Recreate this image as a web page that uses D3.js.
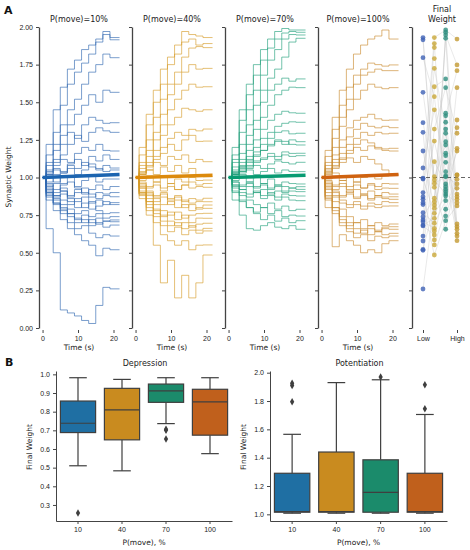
<!DOCTYPE html>
<html>
<head>
<meta charset="utf-8">
<style>
	body { margin: 0; background: #fff; }
	svg { font-family: "DejaVu Sans", sans-serif; }
	.axis path, .axis line { stroke: #444; }
	.axis text { font-size: 7px; fill: #222; }
	.trace { fill: none; stroke-width: 0.85; opacity: 0.75; }
	.label { font-size: 7.5px; fill: #222; }
	.title { font-size: 8px; fill: #222; }
	.panel-letter { font-size: 11px; font-weight: bold; fill: #111; }
</style>
<script src="https://d3js.org/d3.v7.min.js"></script>
<script>
	// ---- data ----
	var moveProb = ["10", "40", "70", "100"];
	var traceColors = ["#2e66b0", "#d69c28", "#22a07c", "#c98a2e"];
	var bandColors  = ["#1c64b0", "#dc8a0c", "#089b72", "#cf6210"];
	var dotColors   = ["#3f62b5", "#c9a838", "#2f8f7f", "#c39a32"];
	var boxColors   = ["#1f6fa3", "#c98b1f", "#1b8b6b", "#c0601c"];

	// weights held after each stimulation event (start weight is 1.0)
	var eventTimes = [1, 3, 5, 7, 9, 11, 13, 15, 17, 19];
	var endTime = 21.7;

	var traces10 = [
		[1.22,1.45,1.60,1.72,1.78,1.85,1.88,1.92,1.97,1.93],
		[1.15,1.30,1.48,1.62,1.70,1.76,1.82,1.90,1.95,1.915],
		[1.10,1.22,1.35,1.45,1.52,1.62,1.70,1.75,1.82,1.796],
		[1.08,1.18,1.28,1.35,1.42,1.48,1.55,1.50,1.58,1.566],
		[1.05,1.12,1.22,1.30,1.26,1.35,1.40,1.38,1.36,1.364],
		[1.04,1.10,1.15,1.22,1.28,1.24,1.30,1.33,1.31,1.30],
		[1.03,1.08,1.12,1.10,1.16,1.20,1.18,1.22,1.18,1.176],
		[1.02,1.06,1.03,1.09,1.12,1.08,1.14,1.11,1.15,1.12],
		[1.02,1.05,1.04,1.08,1.06,1.10,1.07,1.05,1.08,1.063],
		[1.01,0.97,1.03,1.06,1.02,1.05,1.09,1.06,1.04,1.05],
		[0.97,1.02,0.96,1.00,0.94,0.98,1.01,0.97,0.99,0.99],
		[0.96,0.92,0.95,0.97,0.93,0.89,0.92,0.95,0.92,0.94],
		[0.95,0.90,0.93,0.88,0.92,0.90,0.87,0.90,0.89,0.90],
		[0.94,0.96,0.91,0.87,0.90,0.93,0.89,0.86,0.88,0.872],
		[0.93,0.88,0.91,0.86,0.84,0.87,0.83,0.85,0.82,0.833],
		[0.91,0.87,0.89,0.84,0.80,0.83,0.79,0.81,0.84,0.82],
		[0.92,0.88,0.85,0.82,0.86,0.80,0.84,0.78,0.76,0.766],
		[0.90,0.86,0.82,0.79,0.76,0.78,0.74,0.76,0.73,0.74],
		[0.90,0.85,0.80,0.76,0.72,0.75,0.70,0.73,0.71,0.718],
		[0.87,0.83,0.79,0.76,0.73,0.70,0.72,0.69,0.71,0.706],
		[0.89,0.83,0.78,0.74,0.70,0.72,0.68,0.70,0.67,0.684],
		[0.88,0.82,0.76,0.70,0.66,0.68,0.63,0.60,0.62,0.611],
		[0.85,0.78,0.72,0.66,0.62,0.58,0.55,0.48,0.53,0.52],
		[0.66,0.50,0.12,0.10,0.08,0.05,0.03,0.15,0.27,0.26]
	];
	var traces40 = [
		[1.20,1.42,1.58,1.72,1.80,1.88,1.97,1.95,1.94,1.93],
		[1.15,1.35,1.50,1.62,1.75,1.82,1.90,1.92,1.88,1.89],
		[1.10,1.25,1.40,1.52,1.62,1.70,1.80,1.86,1.87,1.863],
		[1.08,1.18,1.30,1.42,1.55,1.62,1.70,1.75,1.72,1.725],
		[1.06,1.14,1.25,1.35,1.45,1.52,1.58,1.62,1.60,1.603],
		[1.04,1.10,1.18,1.28,1.35,1.40,1.46,1.45,1.44,1.45],
		[1.03,1.08,1.14,1.20,1.26,1.30,1.28,1.32,1.31,1.322],
		[1.03,1.07,1.12,1.16,1.22,1.18,1.25,1.28,1.24,1.242],
		[1.02,1.05,1.10,1.08,1.14,1.12,1.15,1.10,1.12,1.105],
		[1.02,1.05,1.02,1.07,1.04,1.08,1.03,1.06,1.01,1.005],
		[0.98,1.01,0.97,1.00,0.96,0.99,0.97,1.00,0.98,0.983],
		[0.97,0.94,0.97,0.93,0.96,0.92,0.95,0.97,0.95,0.96],
		[0.96,0.93,0.95,0.91,0.94,0.92,0.95,0.93,0.94,0.935],
		[0.94,0.90,0.87,0.89,0.85,0.87,0.84,0.86,0.85,0.862],
		[0.95,0.91,0.88,0.90,0.86,0.88,0.85,0.83,0.84,0.839],
		[0.93,0.89,0.86,0.82,0.84,0.80,0.82,0.78,0.80,0.817],
		[0.93,0.88,0.84,0.87,0.82,0.85,0.80,0.82,0.79,0.795],
		[0.91,0.86,0.82,0.78,0.75,0.77,0.73,0.75,0.76,0.762],
		[0.90,0.84,0.78,0.74,0.77,0.72,0.75,0.70,0.73,0.729],
		[0.89,0.84,0.79,0.75,0.71,0.68,0.70,0.67,0.69,0.696],
		[0.89,0.82,0.76,0.71,0.68,0.70,0.66,0.68,0.65,0.662],
		[0.88,0.80,0.74,0.68,0.64,0.67,0.62,0.65,0.63,0.645],
		[0.86,0.78,0.70,0.62,0.58,0.55,0.58,0.52,0.55,0.552],
		[0.90,0.75,0.55,0.30,0.45,0.20,0.35,0.20,0.30,0.485]
	];
	var traces70 = [
		[1.20,1.45,1.62,1.75,1.85,1.92,1.97,1.99,1.98,1.98],
		[1.15,1.38,1.55,1.68,1.78,1.86,1.92,1.96,1.97,1.965],
		[1.12,1.30,1.45,1.58,1.68,1.78,1.85,1.92,1.95,1.947],
		[1.10,1.22,1.35,1.48,1.58,1.66,1.72,1.80,1.90,1.925],
		[1.07,1.16,1.28,1.38,1.50,1.58,1.62,1.66,1.64,1.655],
		[1.05,1.12,1.22,1.32,1.40,1.48,1.55,1.58,1.60,1.597],
		[1.04,1.10,1.18,1.25,1.32,1.38,1.42,1.44,1.43,1.427],
		[1.03,1.08,1.14,1.20,1.26,1.30,1.34,1.36,1.37,1.367],
		[1.03,1.07,1.12,1.17,1.22,1.26,1.30,1.31,1.29,1.294],
		[1.03,1.07,1.11,1.14,1.18,1.21,1.24,1.22,1.25,1.238],
		[1.02,1.06,1.10,1.15,1.18,1.22,1.25,1.24,1.22,1.216],
		[1.02,1.05,1.08,1.11,1.13,1.16,1.14,1.17,1.16,1.161],
		[1.02,1.04,1.07,1.10,1.12,1.14,1.12,1.15,1.14,1.145],
		[1.02,1.04,1.06,1.08,1.06,1.09,1.11,1.10,1.09,1.101],
		[1.01,1.03,1.05,1.02,1.04,1.06,1.03,1.05,1.04,1.039],
		[0.98,1.02,0.97,1.00,0.96,0.99,0.95,0.97,0.96,0.957],
		[0.97,0.95,0.97,0.94,0.96,0.93,0.95,0.94,0.93,0.939],
		[0.97,0.94,0.96,0.93,0.95,0.92,0.94,0.91,0.93,0.921],
		[0.95,0.92,0.94,0.90,0.92,0.89,0.91,0.90,0.91,0.906],
		[0.95,0.92,0.89,0.91,0.88,0.90,0.87,0.89,0.88,0.877],
		[0.94,0.90,0.87,0.90,0.86,0.88,0.85,0.87,0.85,0.846],
		[0.93,0.88,0.85,0.82,0.80,0.83,0.79,0.81,0.78,0.789],
		[0.90,0.84,0.80,0.77,0.80,0.76,0.78,0.74,0.75,0.744],
		[0.91,0.85,0.80,0.76,0.72,0.75,0.71,0.73,0.70,0.713],
		[0.85,0.75,0.66,0.65,0.68,0.70,0.67,0.66,0.68,0.656]
	];
	var traces100 = [
		[1.18,1.40,1.58,1.72,1.82,1.88,1.92,1.94,1.98,1.92],
		[1.14,1.32,1.48,1.60,1.68,1.72,1.76,1.75,1.74,1.748],
		[1.10,1.26,1.40,1.52,1.62,1.68,1.70,1.72,1.71,1.71],
		[1.08,1.20,1.34,1.45,1.52,1.58,1.62,1.60,1.59,1.597],
		[1.06,1.15,1.25,1.33,1.38,1.40,1.42,1.39,1.38,1.382],
		[1.05,1.12,1.20,1.27,1.32,1.36,1.34,1.33,1.34,1.331],
		[1.04,1.10,1.16,1.22,1.26,1.30,1.28,1.30,1.29,1.294],
		[1.03,1.08,1.13,1.18,1.22,1.25,1.23,1.20,1.19,1.194],
		[1.03,1.07,1.12,1.16,1.20,1.18,1.21,1.19,1.18,1.176],
		[1.02,1.06,1.10,1.13,1.10,1.14,1.12,1.09,1.05,1.017],
		[0.99,1.03,0.98,1.01,0.97,1.00,1.02,0.99,1.01,1.017],
		[0.97,0.94,0.96,0.92,0.95,0.93,0.96,0.94,0.96,0.957],
		[0.98,0.95,0.98,0.94,0.97,0.93,0.95,0.92,0.93,0.928],
		[0.96,0.92,0.94,0.90,0.92,0.89,0.91,0.88,0.90,0.89],
		[0.95,0.91,0.88,0.91,0.87,0.89,0.86,0.88,0.87,0.872],
		[0.94,0.90,0.87,0.89,0.86,0.88,0.85,0.87,0.86,0.855],
		[0.93,0.88,0.85,0.82,0.84,0.81,0.83,0.82,0.84,0.833],
		[0.92,0.87,0.83,0.80,0.82,0.79,0.81,0.80,0.81,0.811],
		[0.90,0.84,0.79,0.74,0.70,0.72,0.68,0.70,0.68,0.691],
		[0.88,0.80,0.72,0.68,0.70,0.66,0.68,0.65,0.67,0.673],
		[0.87,0.80,0.74,0.70,0.66,0.63,0.66,0.64,0.66,0.656],
		[0.86,0.78,0.70,0.66,0.63,0.65,0.62,0.64,0.62,0.629],
		[0.85,0.76,0.68,0.64,0.60,0.62,0.58,0.61,0.60,0.611],
		[0.80,0.54,0.62,0.58,0.55,0.50,0.52,0.50,0.56,0.58]
	];
	var allTraces = [traces10, traces40, traces70, traces100];
	var meanFinal = [1.02, 1.015, 1.015, 1.02];

	// final weights per synapse (same synapse order in every column)
	var final10  = [0.995,1.93,0.855,0.74,1.30,0.611,0.99,1.566,0.82,0.259,1.063,0.766,0.90,1.915,0.678,0.516,1.176,0.833,0.706,1.364,0.578,0.872,0.684,1.796,0.523,0.718];
	var final40  = [1.93,0.96,1.242,0.862,0.552,1.603,0.762,1.005,0.485,0.839,1.45,0.696,1.725,0.935,0.618,1.105,0.795,1.89,0.662,0.983,1.322,0.585,0.729,1.537,0.817,0.645,1.79,1.863];
	var final70  = [1.98,1.005,0.906,1.427,0.789,1.655,0.877,1.216,0.713,1.947,1.039,0.846,1.322,0.656,1.965,0.957,1.145,0.744,1.41,0.89,1.597,1.01,1.294,0.939,1.925,1.161,0.921,1.367,1.238,1.101];
	var final100 = [1.92,0.957,1.331,0.629,1.017,0.855,1.597,0.691,0.811,1.748,0.928,1.194,0.58,1.017,0.872,1.382,0.656,0.988,1.71,0.833,1.294,0.611,0.89,1.176,0.673];
	var finals = [final10, final40, final70, final100];

	// box plot summaries (B)
	var depLow  = [0.51, 0.483, 0.736, 0.575];
	var depQ1   = [0.688, 0.649, 0.85, 0.674];
	var depMed  = [0.738, 0.81, 0.911, 0.853];
	var depQ3   = [0.857, 0.925, 0.948, 0.92];
	var depHigh = [0.982, 0.973, 0.982, 0.982];
	var depOut  = [[0.257], [], [0.654, 0.70, 0.706], []];

	var potLow  = [1.008, 1.008, 1.008, 1.008];
	var potQ1   = [1.015, 1.015, 1.015, 1.015];
	var potMed  = [1.02, 1.02, 1.155, 1.02];
	var potQ3   = [1.29, 1.44, 1.385, 1.29];
	var potHigh = [1.565, 1.93, 1.95, 1.705];
	var potOut  = [[1.795, 1.91, 1.925], [], [1.97], [1.745, 1.915]];

	function draw() {
		"use strict";
		var svg = d3.select("body").append("svg")
			.attr("width", 470).attr("height", 550);

		// ---------- A: traces ----------
		var yTop = d3.scaleLinear().domain([0, 2]).range([328, 27]);
		var yTicks = [0, 0.25, 0.5, 0.75, 1, 1.25, 1.5, 1.75, 2];
		var lefts = [39, 132, 225, 318];

		svg.append("text").attr("class", "panel-letter")
			.attr("x", 4).attr("y", 14).text("A");

		lefts.forEach(function(left, i) {
			var x = d3.scaleLinear().domain([-1, 22]).range([left, left + 81.6]);
			var g = svg.append("g");

			var line = d3.line()
				.x(function(d) { return x(d[0]); })
				.y(function(d) { return yTop(d[1]); })
				.curve(d3.curveStepAfter);

			var series = allTraces[i].map(function(vals) {
				var pts = [[0, 1.0]];
				vals.forEach(function(v, k) { pts.push([eventTimes[k], v]); });
				pts.push([endTime, vals[vals.length - 1]]);
				return pts;
			});

			g.selectAll("path.trace")
				.data(series)
				.enter().append("path")
				.attr("class", "trace")
				.attr("stroke", traceColors[i])
				.attr("d", line);

			g.append("path")
				.datum([[0, 1.0], [endTime, meanFinal[i]]])
				.attr("fill", "none")
				.attr("stroke", bandColors[i])
				.attr("stroke-width", 3.5)
				.attr("d", d3.line()
					.x(function(d) { return x(d[0]); })
					.y(function(d) { return yTop(d[1]); }));

			var yAxis = d3.axisLeft(yTop).tickValues(yTicks)
				.tickSize(3).tickSizeOuter(0)
				.tickFormat(i === 0 ? d3.format(".2f") : "");
			g.append("g").attr("class", "axis")
				.attr("transform", "translate(" + left + ",0)")
				.call(yAxis)
				.select(".domain").attr("stroke", "#555").attr("stroke-width", 1.3);

			var xAxis = d3.axisBottom(x).tickValues([0, 10, 20]).tickSize(3);
			var gx = g.append("g").attr("class", "axis")
				.attr("transform", "translate(0,330)")
				.call(xAxis);
			gx.select(".domain").remove();

			g.append("text").attr("class", "title")
				.attr("x", left + 40).attr("y", 22)
				.attr("text-anchor", "middle")
				.text("P(move)=" + moveProb[i] + "%");

			g.append("text").attr("class", "label")
				.attr("x", left + 40).attr("y", 350)
				.attr("text-anchor", "middle")
				.text("Time (s)");
		});

		svg.append("text").attr("class", "label")
			.attr("transform", "translate(11,177) rotate(-90)")
			.attr("text-anchor", "middle")
			.text("Synaptic Weight");

		// ---------- A: final weight column ----------
		var fLeft = 412;
		var xf = d3.scalePoint().domain(moveProb).range([423, 457]);
		var gf = svg.append("g");

		var n = d3.min(finals, function(a) { return a.length; });
		var links = d3.range(n).map(function(k) {
			return moveProb.map(function(p, i) { return [p, finals[i][k]]; });
		});
		gf.selectAll("path.link")
			.data(links)
			.enter().append("path")
			.attr("fill", "none")
			.attr("stroke", "#c8c8c8")
			.attr("stroke-width", 0.5)
			.attr("opacity", 0.8)
			.attr("d", d3.line()
				.x(function(d) { return xf(d[0]); })
				.y(function(d) { return yTop(d[1]); }));

		gf.append("line")
			.attr("x1", fLeft).attr("x2", 470)
			.attr("y1", yTop(1)).attr("y2", yTop(1))
			.attr("stroke", "#555").attr("stroke-width", 0.9)
			.attr("stroke-dasharray", "4,3");

		finals.forEach(function(vals, i) {
			gf.selectAll("circle.c" + i)
				.data(vals)
				.enter().append("circle")
				.attr("class", "c" + i)
				.attr("cx", xf(moveProb[i]))
				.attr("cy", function(d) { return yTop(d); })
				.attr("r", 2.4)
				.attr("fill", dotColors[i])
				.attr("opacity", 0.8);
		});

		gf.append("g").attr("class", "axis")
			.attr("transform", "translate(" + fLeft + ",0)")
			.call(d3.axisLeft(yTop).tickValues(yTicks).tickSize(3).tickSizeOuter(0).tickFormat(""))
			.select(".domain").attr("stroke", "#555").attr("stroke-width", 1.3);

		var gfx = gf.append("g").attr("class", "axis")
			.attr("transform", "translate(0,330)")
			.call(d3.axisBottom(xf).tickValues(["10", "100"]).tickSize(3)
				.tickFormat(function(d) { return d === "10" ? "Low" : "High"; }));
		gfx.select(".domain").remove();

		gf.append("text").attr("class", "title")
			.attr("x", 442).attr("text-anchor", "middle")
			.selectAll("tspan").data(["Final", "Weight"])
			.enter().append("tspan")
			.attr("x", 442)
			.attr("y", function(d, k) { return 12 + k * 10; })
			.text(function(d) { return d; });

		// ---------- B: box plots ----------
		svg.append("text").attr("class", "panel-letter")
			.attr("x", 5).attr("y", 366).text("B");

		function boxPanel(left, right, yDomain, ticks, low, q1, med, q3, high, outs, title) {
			var g = svg.append("g");
			var x = d3.scaleBand().domain(moveProb).range([left, right]);
			var y = d3.scaleLinear().domain(yDomain).range([521, 371]);
			var bw = x.bandwidth() * 0.8;

			moveProb.forEach(function(p, i) {
				var cx = x(p) + x.bandwidth() / 2;
				var stroke = "#3f3f3f";
				g.append("line").attr("x1", cx).attr("x2", cx)
					.attr("y1", y(high[i])).attr("y2", y(q3[i]))
					.attr("stroke", stroke).attr("stroke-width", 1.2);
				g.append("line").attr("x1", cx).attr("x2", cx)
					.attr("y1", y(q1[i])).attr("y2", y(low[i]))
					.attr("stroke", stroke).attr("stroke-width", 1.2);
				[low[i], high[i]].forEach(function(v) {
					g.append("line").attr("x1", cx - bw / 4).attr("x2", cx + bw / 4)
						.attr("y1", y(v)).attr("y2", y(v))
						.attr("stroke", stroke).attr("stroke-width", 1.2);
				});
				g.append("rect")
					.attr("x", cx - bw / 2).attr("width", bw)
					.attr("y", y(q3[i])).attr("height", y(q1[i]) - y(q3[i]))
					.attr("fill", boxColors[i])
					.attr("stroke", stroke).attr("stroke-width", 1.2);
				g.append("line").attr("x1", cx - bw / 2).attr("x2", cx + bw / 2)
					.attr("y1", y(med[i])).attr("y2", y(med[i]))
					.attr("stroke", stroke).attr("stroke-width", 1.2);
				g.selectAll("path.o" + i)
					.data(outs[i])
					.enter().append("path")
					.attr("transform", function(d) { return "translate(" + cx + "," + y(d) + ")"; })
					.attr("d", d3.symbol().type(d3.symbolDiamond).size(16))
					.attr("fill", stroke);
			});

			g.append("g").attr("class", "axis")
				.attr("transform", "translate(" + left + ",0)")
				.call(d3.axisLeft(y).tickValues(ticks).tickFormat(d3.format(".1f")).tickSize(3).tickSizeOuter(0));
			g.append("g").attr("class", "axis")
				.attr("transform", "translate(0,521)")
				.call(d3.axisBottom(x).tickSize(3).tickSizeOuter(0));

			g.append("text").attr("class", "title")
				.attr("x", (left + right) / 2 + 1).attr("y", 366)
				.attr("text-anchor", "middle").text(title);
			g.append("text").attr("class", "label")
				.attr("x", (left + right) / 2).attr("y", 545)
				.attr("text-anchor", "middle").text("P(move), %");
			g.append("text").attr("class", "label")
				.attr("transform", "translate(" + (left - 24) + "," + 447 + ") rotate(-90)")
				.attr("text-anchor", "middle").text("Final Weight");
		}

		boxPanel(56, 232, [0.214, 1.018], [0.3, 0.4, 0.5, 0.6, 0.7, 0.8, 0.9, 1.0],
			depLow, depQ1, depMed, depQ3, depHigh, depOut, "Depression");
		boxPanel(270, 447, [0.953, 2.012], [1.0, 1.2, 1.4, 1.6, 1.8, 2.0],
			potLow, potQ1, potMed, potQ3, potHigh, potOut, "Potentiation");
	}
</script>
</head>
<body>
	<script>draw();</script>
</body>
</html>
